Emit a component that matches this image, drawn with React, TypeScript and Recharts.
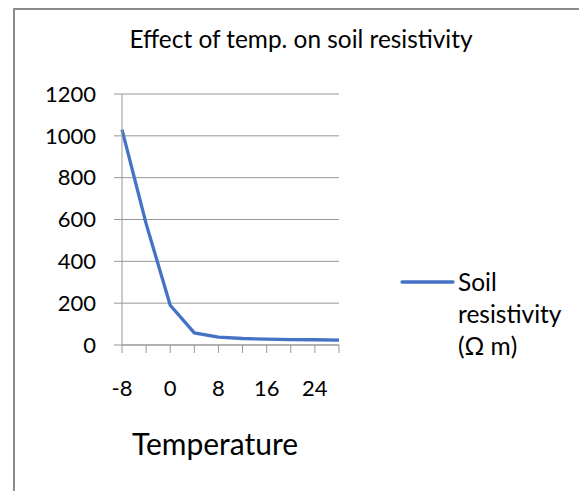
import { LineChart, Line, XAxis, YAxis, CartesianGrid, Legend } from 'recharts';

// temperature categories (deg C) and soil resistivity
const temps = [-8, -4, 0, 4, 8, 12, 16, 20, 24, 28];
const resistivity = [1030, 580, 190, 58, 38, 31, 28, 26, 25, 23];
const yTicks = [0, 200, 400, 600, 800, 1000, 1200];

const title = 'Effect of temp. on soil resistivity';
const xTitle = 'Temperature';
const seriesName = 'Soil resistivity (Ω m)';

const data = temps.map((t, i) => ({ temp: t, value: resistivity[i] }));

const BLUE = '#4472C4';
const GRID = '#989898';
const FONT = 'Lato, "Open Sans", sans-serif';

// only every other category gets a label, but every category keeps its tick mark
const XTick = (props: any) => {
  const { x, y, payload, index } = props;
  if (index % 2 !== 0) return <g />;
  return (
    <text x={x} y={y} dy="0.71em" textAnchor="middle" fill="#000" fontSize={22}>
      {payload.value}
    </text>
  );
};

const LegendContent = () => (
  <div style={{ display: 'flex', alignItems: 'flex-start', fontFamily: FONT }}>
    <svg width={58} height={32}>
      <line x1={2} y1={16} x2={53} y2={16} stroke={BLUE} strokeWidth={3.3} strokeLinecap="round" />
    </svg>
    <div style={{ fontSize: 24.5, lineHeight: '32px', color: '#000' }}>
      <div>Soil</div>
      <div>resistivity</div>
      <div>(Ω m)</div>
    </div>
  </div>
);

export default function App() {
  // fixed to the viewport so the frame can run off the right/bottom edge without scrolling
  return (
    <div
      style={{
        position: 'fixed',
        left: 0,
        top: 0,
        width: 579,
        height: 491,
        overflow: 'hidden',
        fontFamily: FONT,
        background: '#fff',
      }}
    >
      <div
        style={{
          position: 'absolute',
          left: 13,
          top: 8,
          width: 600,
          height: 520,
          boxSizing: 'border-box',
          border: '2px solid #8c8c8c',
        }}
      />
      <LineChart
        width={579}
        height={491}
        data={data}
        margin={{ top: 94, right: 240, left: 0, bottom: 86 }}
        style={{ position: 'absolute', left: 0, top: 0 }}
      >
        <CartesianGrid vertical={false} stroke={GRID} strokeWidth={1} />
        <XAxis
          dataKey="temp"
          interval={0}
          height={60}
          tick={<XTick />}
          tickSize={8}
          tickMargin={27}
          axisLine={{ stroke: GRID }}
          tickLine={{ stroke: GRID }}
        />
        <YAxis
          width={122}
          domain={[0, 1200]}
          ticks={yTicks}
          tickSize={8}
          tickMargin={18}
          tick={{ fill: '#000', fontSize: 22 }}
          axisLine={{ stroke: GRID }}
          tickLine={{ stroke: GRID }}
        />
        <Legend
          layout="vertical"
          align="center"
          verticalAlign="middle"
          content={<LegendContent />}
          wrapperStyle={{ left: 400, top: 266, width: 175 }}
        />
        <Line
          type="linear"
          dataKey="value"
          name={seriesName}
          stroke={BLUE}
          strokeWidth={3.3}
          dot={false}
          isAnimationActive={false}
        />
      </LineChart>
      <svg
        width={579}
        height={491}
        style={{ position: 'absolute', left: 0, top: 0, pointerEvents: 'none' }}
      >
        <text x={301} y={48} textAnchor="middle" fontSize={24.4} fill="#000" fontFamily={FONT}>
          {title}
        </text>
        <text x={215} y={455} textAnchor="middle" fontSize={30} fill="#000" fontFamily={FONT}>
          {xTitle}
        </text>
      </svg>
    </div>
  );
}
